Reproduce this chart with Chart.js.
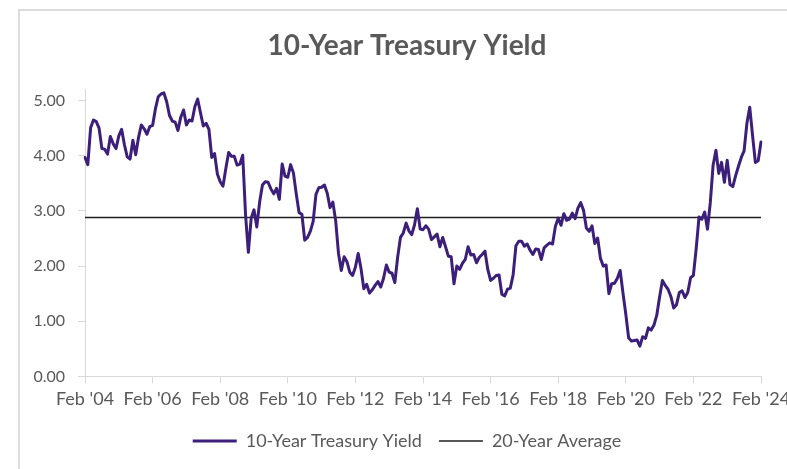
<!DOCTYPE html>
<html>
<head>
<meta charset="utf-8">
<script src="https://cdn.jsdelivr.net/npm/chart.js@4.4.1/dist/chart.umd.min.js"></script>
<style>
  html, body { margin: 0; padding: 0; background: #ffffff; overflow: hidden; }
  #wrap { position: relative; width: 787px; height: 469px; }
  #frame { position: absolute; left: 18px; top: 9px; width: 800px; height: 500px;
           border-left: 2px solid #dcdcdc; border-top: 2px solid #dcdcdc; pointer-events: none; }
  canvas { position: absolute; left: 0; top: 0; }
</style>
</head>
<body>
<div id="wrap">
  <canvas id="c" width="787" height="469"></canvas>
  <div id="frame"></div>
</div>
<script>
// ---- Data (month-end 10-year yields, Feb 2004 .. Feb 2024) ----
const startYear = 2004;
const startMonth = 1; // February (0-based)
const yieldValues = [
  /*2004*/ 3.97, 3.84, 4.51, 4.65, 4.62, 4.50, 4.13, 4.12, 4.03, 4.35, 4.22,
  /*2005*/ 4.13, 4.36, 4.48, 4.20, 3.98, 3.94, 4.28, 4.02, 4.33, 4.56, 4.49, 4.39,
  /*2006*/ 4.53, 4.55, 4.85, 5.07, 5.12, 5.14, 4.98, 4.73, 4.63, 4.61, 4.46, 4.70,
  /*2007*/ 4.83, 4.56, 4.65, 4.63, 4.89, 5.03, 4.78, 4.54, 4.59, 4.48, 3.97, 4.04,
  /*2008*/ 3.67, 3.53, 3.45, 3.77, 4.06, 3.99, 3.99, 3.83, 3.85, 4.01, 2.93, 2.25,
  /*2009*/ 2.87, 3.02, 2.71, 3.16, 3.47, 3.53, 3.52, 3.40, 3.31, 3.41, 3.21, 3.85,
  /*2010*/ 3.63, 3.61, 3.84, 3.69, 3.31, 2.97, 2.94, 2.47, 2.52, 2.63, 2.81, 3.30,
  /*2011*/ 3.42, 3.43, 3.47, 3.32, 3.06, 3.16, 2.82, 2.23, 1.92, 2.17, 2.08, 1.89,
  /*2012*/ 1.83, 1.98, 2.23, 1.95, 1.59, 1.67, 1.51, 1.57, 1.65, 1.72, 1.62, 1.78,
  /*2013*/ 2.02, 1.89, 1.87, 1.70, 2.16, 2.52, 2.60, 2.78, 2.64, 2.57, 2.75, 3.04,
  /*2014*/ 2.67, 2.66, 2.73, 2.67, 2.48, 2.53, 2.58, 2.35, 2.52, 2.35, 2.18, 2.17,
  /*2015*/ 1.68, 2.00, 1.94, 2.05, 2.12, 2.35, 2.20, 2.21, 2.06, 2.16, 2.21, 2.27,
  /*2016*/ 1.94, 1.74, 1.78, 1.83, 1.84, 1.49, 1.46, 1.58, 1.60, 1.84, 2.37, 2.45,
  /*2017*/ 2.45, 2.36, 2.40, 2.29, 2.21, 2.31, 2.30, 2.12, 2.33, 2.38, 2.42, 2.40,
  /*2018*/ 2.72, 2.87, 2.74, 2.95, 2.83, 2.85, 2.96, 2.86, 3.05, 3.15, 3.01, 2.69,
  /*2019*/ 2.63, 2.73, 2.41, 2.51, 2.14, 2.00, 2.02, 1.50, 1.68, 1.69, 1.78, 1.92,
  /*2020*/ 1.51, 1.13, 0.70, 0.64, 0.65, 0.66, 0.55, 0.72, 0.69, 0.88, 0.84, 0.93,
  /*2021*/ 1.11, 1.44, 1.74, 1.65, 1.58, 1.45, 1.24, 1.30, 1.52, 1.55, 1.43, 1.52,
  /*2022*/ 1.79, 1.83, 2.32, 2.89, 2.85, 2.98, 2.67, 3.15, 3.83, 4.10, 3.68, 3.88,
  /*2023*/ 3.52, 3.92, 3.48, 3.44, 3.64, 3.81, 3.97, 4.09, 4.59, 4.88, 4.37, 3.88,
  /*2024*/ 3.91, 4.25
];
const averageValue = 2.88; // 20-year average
const xTickLabels = ["Feb '04", "Feb '06", "Feb '08", "Feb '10", "Feb '12", "Feb '14",
                     "Feb '16", "Feb '18", "Feb '20", "Feb '22", "Feb '24"];
const yTickValues = [0, 1, 2, 3, 4, 5];
const seriesNames = ["10-Year Treasury Yield", "20-Year Average"];
const chartTitle = "10-Year Treasury Yield";

// month category labels
const monthNames = ["Jan","Feb","Mar","Apr","May","Jun","Jul","Aug","Sep","Oct","Nov","Dec"];
const categories = yieldValues.map((_, i) => {
  const m = startMonth + i;
  const y = startYear + Math.floor(m / 12);
  return monthNames[m % 12] + " '" + String(y).slice(2);
});
const tickEvery = 24;

const TEXT = '#595959';
const AXIS = '#d9d9d9';

function build() {
  Chart.defaults.font.family = 'Lato, "Open Sans", sans-serif';
  Chart.defaults.color = TEXT;
  new Chart(document.getElementById('c'), {
    type: 'line',
    data: {
      labels: categories,
      datasets: [
        {
          label: seriesNames[0],
          data: yieldValues,
          borderColor: '#3c1f7b',
          backgroundColor: '#3c1f7b',
          borderWidth: 3,
          pointRadius: 0,
          tension: 0,
          borderJoinStyle: 'round',
          borderCapStyle: 'round'
        },
        {
          label: seriesNames[1],
          data: [
            { x: categories[0], y: averageValue },
            { x: categories[categories.length - 1], y: averageValue }
          ],
          borderColor: '#1f1f1f',
          backgroundColor: '#1f1f1f',
          borderWidth: 1.5,
          pointRadius: 0,
          tension: 0
        }
      ]
    },
    options: {
      responsive: false,
      animation: false,
      devicePixelRatio: 1,
      layout: { padding: { left: 27, right: 0, top: 10, bottom: 9 } },
      plugins: {
        title: {
          display: true,
          text: chartTitle,
          color: TEXT,
          font: { size: 28, weight: 'bold' },
          padding: { top: 19, bottom: 27 }
        },
        legend: {
          position: 'bottom',
          labels: {
            usePointStyle: true,
            pointStyle: 'line',
            pointStyleWidth: 44,
            color: TEXT,
            font: { size: 18 },
            padding: 17
          }
        },
        tooltip: { enabled: false }
      },
      scales: {
        x: {
          type: 'category',
          offset: false,
          grid: { display: true, drawOnChartArea: false, drawTicks: true, tickLength: 7, color: AXIS, tickColor: AXIS },
          border: { display: true, color: AXIS, width: 1 },
          ticks: {
            autoSkip: false,
            maxRotation: 0,
            minRotation: 0,
            padding: 5,
            color: TEXT,
            font: { size: 18 },
            callback: function (value, index) {
              return index % tickEvery === 0 ? xTickLabels[index / tickEvery] : null;
            }
          },
          afterFit: function (scale) { scale.paddingRight = 26; }
        },
        y: {
          min: 0,
          max: 5.2,
          grid: { display: true, drawOnChartArea: false, drawTicks: true, tickLength: 7, color: AXIS, tickColor: AXIS },
          border: { display: true, color: AXIS, width: 1 },
          ticks: {
            stepSize: 1,
            padding: 13,
            color: TEXT,
            font: { size: 16 },
            callback: function (v) { return v.toFixed(2); }
          },
          afterBuildTicks: function (scale) {
            scale.ticks = yTickValues.map(v => ({ value: v }));
          },
          afterFit: function (scale) { scale.width = 58; }
        }
      }
    }
  });
}

if (document.fonts && document.fonts.load) {
  Promise.all([
    document.fonts.load('16px Lato'),
    document.fonts.load('bold 28px Lato')
  ]).then(build, build);
} else {
  build();
}
</script>
</body>
</html>
